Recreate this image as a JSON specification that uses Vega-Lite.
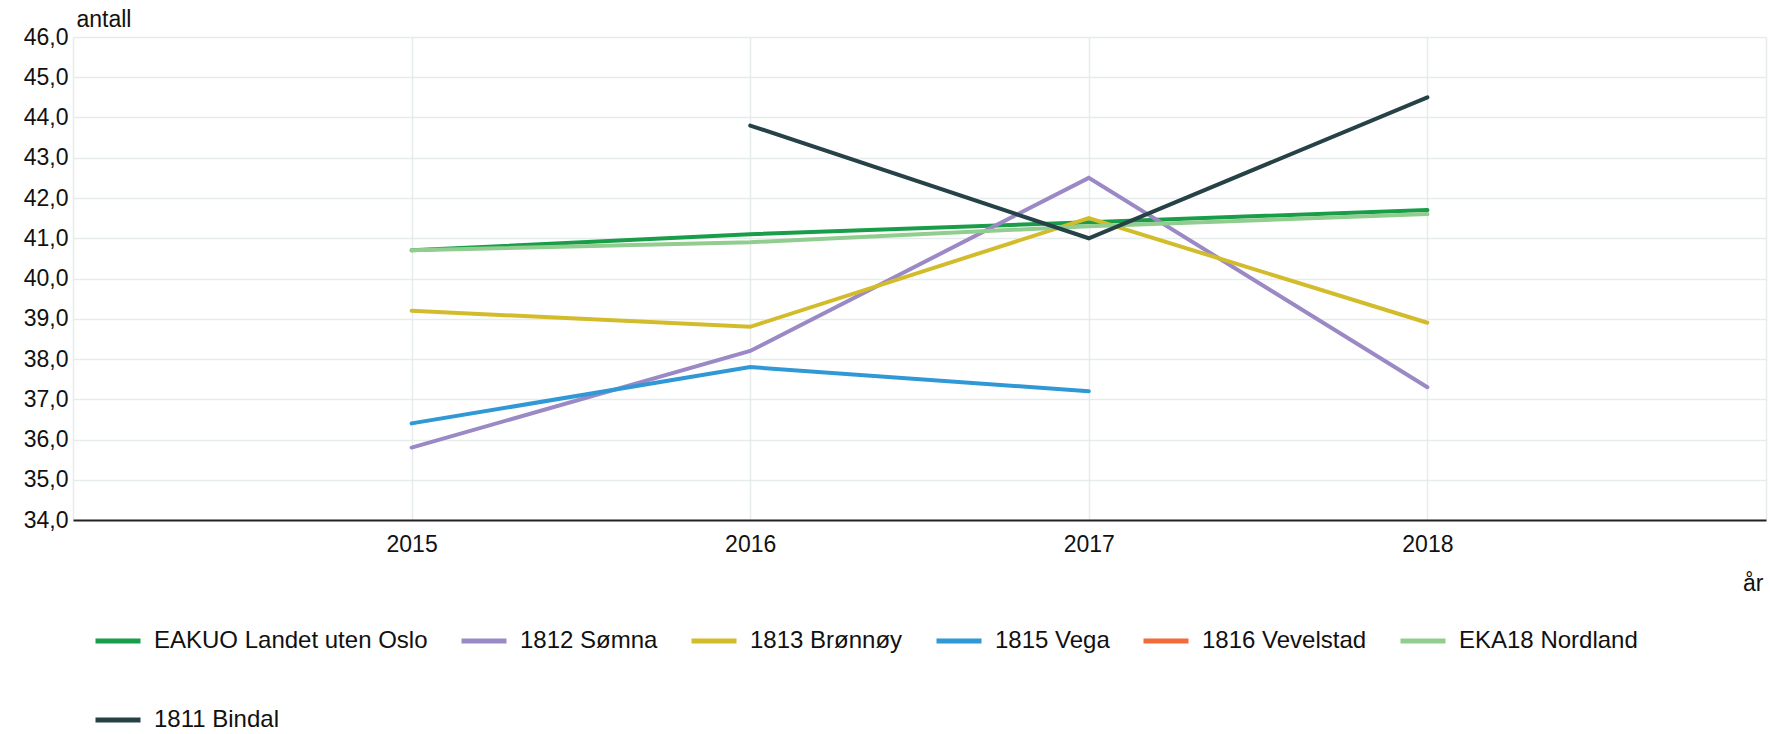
{
  "$schema": "https://vega.github.io/schema/vega-lite/v6.json",
  "width": 1693,
  "height": 483,
  "autosize": {"type": "none"},
  "padding": {"left": 73, "top": 37, "right": 4, "bottom": 214},
  "background": "white",
  "config": {
    "font": "Liberation Sans",
    "view": {"stroke": null}
  },
  "data": {
    "values": [
      {"serie": "EAKUO Landet uten Oslo", "ord": 1, "aar": 2015, "antall": 40.7},
      {"serie": "EAKUO Landet uten Oslo", "ord": 1, "aar": 2016, "antall": 41.1},
      {"serie": "EAKUO Landet uten Oslo", "ord": 1, "aar": 2017, "antall": 41.4},
      {"serie": "EAKUO Landet uten Oslo", "ord": 1, "aar": 2018, "antall": 41.7},
      {"serie": "1812 Sømna", "ord": 2, "aar": 2015, "antall": 35.8},
      {"serie": "1812 Sømna", "ord": 2, "aar": 2016, "antall": 38.2},
      {"serie": "1812 Sømna", "ord": 2, "aar": 2017, "antall": 42.5},
      {"serie": "1812 Sømna", "ord": 2, "aar": 2018, "antall": 37.3},
      {"serie": "1813 Brønnøy", "ord": 3, "aar": 2015, "antall": 39.2},
      {"serie": "1813 Brønnøy", "ord": 3, "aar": 2016, "antall": 38.8},
      {"serie": "1813 Brønnøy", "ord": 3, "aar": 2017, "antall": 41.5},
      {"serie": "1813 Brønnøy", "ord": 3, "aar": 2018, "antall": 38.9},
      {"serie": "1815 Vega", "ord": 4, "aar": 2015, "antall": 36.4},
      {"serie": "1815 Vega", "ord": 4, "aar": 2016, "antall": 37.8},
      {"serie": "1815 Vega", "ord": 4, "aar": 2017, "antall": 37.2},
      {"serie": "EKA18 Nordland", "ord": 6, "aar": 2015, "antall": 40.7},
      {"serie": "EKA18 Nordland", "ord": 6, "aar": 2016, "antall": 40.9},
      {"serie": "EKA18 Nordland", "ord": 6, "aar": 2017, "antall": 41.3},
      {"serie": "EKA18 Nordland", "ord": 6, "aar": 2018, "antall": 41.6},
      {"serie": "1811 Bindal", "ord": 7, "aar": 2016, "antall": 43.8},
      {"serie": "1811 Bindal", "ord": 7, "aar": 2017, "antall": 41.0},
      {"serie": "1811 Bindal", "ord": 7, "aar": 2018, "antall": 44.5}
    ]
  },
  "mark": {"type": "line", "strokeWidth": 4, "strokeCap": "round", "strokeJoin": "miter"},
  "encoding": {
    "x": {
      "field": "aar",
      "type": "quantitative",
      "scale": {"domain": [2014, 2019], "nice": false, "zero": false},
      "axis": {
        "values": [2014, 2015, 2016, 2017, 2018, 2019],
        "labelExpr": "datum.value == 2014 || datum.value == 2019 ? '' : datum.value",
        "title": "år",
        "titleAngle": 0,
        "titleX": 1690,
        "titleY": 63,
        "titleAlign": "right",
        "titleBaseline": "middle",
        "titleFont": "Liberation Sans",
        "titleFontSize": 23,
        "titleFontWeight": "normal",
        "titleColor": "#111111",
        "labelFontSize": 23,
        "labelColor": "#111111",
        "labelPadding": 13,
        "ticks": false,
        "domain": true,
        "domainColor": "#222222",
        "domainWidth": 2,
        "grid": true,
        "gridColor": "#e6ebeb",
        "gridWidth": 1.5
      }
    },
    "y": {
      "field": "antall",
      "type": "quantitative",
      "scale": {"domain": [34, 46], "nice": false, "zero": false},
      "axis": {
        "values": [34, 35, 36, 37, 38, 39, 40, 41, 42, 43, 44, 45, 46],
        "labelExpr": "replace(format(datum.value, '.1f'), '.', ',')",
        "title": "antall",
        "titleAngle": 0,
        "titleX": 3,
        "titleY": -18,
        "titleAlign": "left",
        "titleBaseline": "middle",
        "titleFont": "Liberation Sans",
        "titleFontSize": 23,
        "titleFontWeight": "normal",
        "titleColor": "#111111",
        "labelFontSize": 23,
        "labelColor": "#111111",
        "labelPadding": 5,
        "ticks": false,
        "domain": false,
        "grid": true,
        "gridColor": "#e6ebeb",
        "gridWidth": 1.5
      }
    },
    "color": {
      "field": "serie",
      "type": "nominal",
      "scale": {
        "domain": ["EAKUO Landet uten Oslo", "1812 Sømna", "1813 Brønnøy", "1815 Vega", "1816 Vevelstad", "EKA18 Nordland", "1811 Bindal"],
        "range": ["#1a9d49", "#9b89c6", "#d3bc2c", "#2f98d5", "#f26b3a", "#90cd8e", "#274247"]
      },
      "legend": {
        "title": null,
        "orient": "none",
        "legendX": 20,
        "legendY": 579,
        "direction": "horizontal",
        "columns": 6,
        "gridAlign": "each",
        "columnPadding": 23,
        "rowPadding": 42,
        "symbolType": "stroke",
        "symbolSize": 2025,
        "symbolStrokeWidth": 5,
        "labelFontSize": 24,
        "labelColor": "#111111",
        "labelOffset": 11,
        "labelLimit": 400
      }
    },
    "order": {"field": "ord", "type": "quantitative"}
  }
}
